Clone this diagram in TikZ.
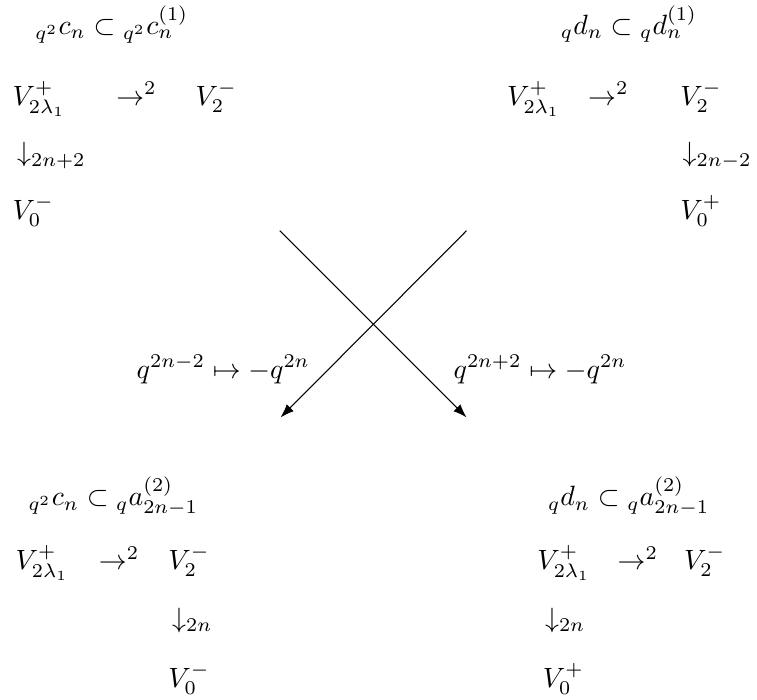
\documentclass[tikz,border=0pt]{standalone}
\usepackage{amsmath,amssymb}
\usepackage{tikz}
\usetikzlibrary{positioning,arrows.meta}

\tikzset{
    term/.style={inner sep=0pt, anchor=base west, scale=1.05},
    swap/.style={thin, -{Latex[length=1.8mm, width=1.3mm]}}
}

\begin{document}
\begin{tikzpicture}
    \useasboundingbox (0, 0) rectangle (10.01, 9.25);

    \node[term] (tlTitle) at (0.46, 8.79) {${}_{q^2}c_n \subset {}_{q^2}c_n^{(1)}$};
    \node[term] (tlTop)   at (0.16, 7.86) {$V^+_{2\lambda_1}$};
    \node[term] (tlMap)   at (1.53, 7.86) {$\rightarrow^2$};
    \node[term] (tlTwo)   at (2.58, 7.86) {$V_2^-$};
    \node[term] (tlDown)  at (0.22, 7.11) {$\downarrow_{2n+2}$};
    \node[term] (tlZero)  at (0.16, 6.35) {$V_0^-$};

    \node[term] (trTitle) at (7.41, 8.79) {${}_{q}d_n \subset {}_{q}d_n^{(1)}$};
    \node[term] (trTop)   at (6.70, 7.86) {$V^+_{2\lambda_1}$};
    \node[term] (trMap)   at (7.77, 7.86) {$\rightarrow^2$};
    \node[term] (trTwo)   at (8.99, 7.86) {$V_2^-$};
    \node[term] (trDown)  at (9.02, 7.11) {$\downarrow_{2n-2}$};
    \node[term] (trZero)  at (8.99, 6.35) {$V_0^+$};

    \node[term] (blTitle) at (0.37, 2.56) {${}_{q^2}c_n \subset {}_{q}a_{2n-1}^{(2)}$};
    \node[term] (blTop)   at (0.20, 1.72) {$V^+_{2\lambda_1}$};
    \node[term] (blMap)   at (1.30, 1.72) {$\rightarrow^2$};
    \node[term] (blTwo)   at (2.22, 1.72) {$V_2^-$};
    \node[term] (blDown)  at (2.27, 0.95) {$\downarrow_{2n}$};
    \node[term] (blZero)  at (2.22, 0.16) {$V_0^-$};

    \node[term] (brTitle) at (7.24, 2.56) {${}_{q}d_n \subset {}_{q}a_{2n-1}^{(2)}$};
    \node[term] (brTop)   at (7.10, 1.72) {$V^+_{2\lambda_1}$};
    \node[term] (brMap)   at (8.16, 1.72) {$\rightarrow^2$};
    \node[term] (brTwo)   at (9.04, 1.72) {$V_2^-$};
    \node[term] (brDown)  at (7.20, 0.95) {$\downarrow_{2n}$};
    \node[term] (brZero)  at (7.17, 0.16) {$V_0^+$};

    \node[term] (leftRule)  at (1.80, 4.25) {$q^{2n-2} \mapsto -q^{2n}$};
    \node[term] (rightRule) at (5.99, 4.25) {$q^{2n+2} \mapsto -q^{2n}$};

    \coordinate (fromC) at (3.70, 6.20);
    \coordinate (fromD) at (6.17, 6.20);
    \coordinate (toC)   at (3.71, 3.73);
    \coordinate (toD)   at (6.17, 3.73);

    \draw[swap] (fromC) -- (toD);
    \draw[swap] (fromD) -- (toC);
\end{tikzpicture}
\end{document}
